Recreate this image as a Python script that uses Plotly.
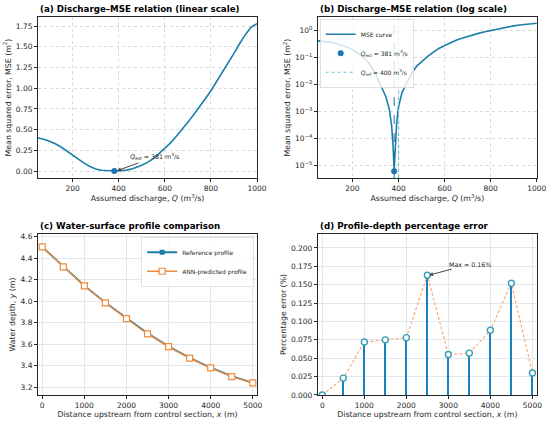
import plotly.graph_objects as go

# Discharge - MSE curve
q_vals = [50, 75, 100, 125, 150, 175, 200, 225, 250, 275, 300, 325, 345, 360, 370, 376, 379,
          381, 383, 386, 392, 400, 415, 435, 460, 480, 500, 525, 550, 575, 600, 625, 650,
          675, 700, 725, 750, 775, 800, 825, 850, 875, 900, 925, 950, 975, 1000]
mse_vals = [0.40, 0.385, 0.36, 0.33, 0.29, 0.24, 0.19, 0.14, 0.095, 0.055, 0.025, 0.009,
            0.0035, 0.0012, 3e-4, 6e-5, 1.5e-5, 6.3e-6, 1.5e-5, 6e-5, 4e-4, 1.5e-3, 5e-3,
            0.011, 0.028, 0.048, 0.07, 0.105, 0.15, 0.21, 0.27, 0.34, 0.42, 0.50, 0.59,
            0.68, 0.77, 0.87, 0.97, 1.08, 1.19, 1.30, 1.42, 1.54, 1.65, 1.74, 1.78]
q_est = 381
mse_est = 6.3e-6
q_ref = 400

# Water-surface profile
x_dist = [0, 500, 1000, 1500, 2000, 2500, 3000, 3500, 4000, 4500, 5000]
y_ref = [4.505, 4.321, 4.145, 3.987, 3.842, 3.702, 3.580, 3.473, 3.383, 3.303, 3.241]
y_ann = [4.505, 4.320, 4.142, 3.984, 3.839, 3.696, 3.578, 3.471, 3.380, 3.298, 3.240]

# Percentage error
pct_err = [0.000, 0.023, 0.072, 0.075, 0.078, 0.163, 0.055, 0.057, 0.088, 0.152, 0.030]

log_tickvals = [1e-5, 1e-4, 1e-3, 1e-2, 1e-1, 1]
log_ticktext = ['10<sup>−5</sup>', '10<sup>−4</sup>', '10<sup>−3</sup>',
                '10<sup>−2</sup>', '10<sup>−1</sup>', '10<sup>0</sup>']

FONT = 'DejaVu Sans'
BLUE = '#1b7fa8'
ORANGE = '#f28a3a'
INK = '#262626'

fig = go.Figure()

# (a) linear
fig.add_trace(go.Scatter(x=q_vals, y=mse_vals, mode='lines', line=dict(color=BLUE, width=1.6),
                         xaxis='x', yaxis='y', showlegend=False))
fig.add_trace(go.Scatter(x=[q_est], y=[mse_est], mode='markers', marker=dict(color='#1a78b0', size=6),
                         xaxis='x', yaxis='y', showlegend=False))

# (b) log
fig.add_trace(go.Scatter(x=q_vals, y=mse_vals, mode='lines', name='MSE curve',
                         line=dict(color=BLUE, width=1.6),
                         xaxis='x2', yaxis='y2', legend='legend'))
fig.add_trace(go.Scatter(x=[q_est], y=[mse_est], mode='markers',
                         name='<i>Q</i><sub>est</sub> = 381 m<sup>3</sup>/s',
                         marker=dict(color='#1a78b0', size=6), xaxis='x2', yaxis='y2', legend='legend'))
fig.add_shape(type='line', xref='x2', yref='y2 domain', x0=q_est, x1=q_est, y0=0, y1=1,
              line=dict(color='#1f6fa6', width=1, dash='dash'))
fig.add_shape(type='line', xref='x2', yref='y2 domain', x0=q_ref, x1=q_ref, y0=0, y1=1,
              line=dict(color='#6cc6dc', width=1.2, dash='dot'), showlegend=True,
              name='<i>Q</i><sub>ref</sub> = 400 m<sup>3</sup>/s', legend='legend')

# (c) profiles
fig.add_trace(go.Scatter(x=x_dist, y=y_ref, mode='lines+markers', name='Reference profile',
                         line=dict(color=BLUE, width=1.8), marker=dict(symbol='square', size=5, color=BLUE),
                         xaxis='x3', yaxis='y3', legend='legend2'))
fig.add_trace(go.Scatter(x=x_dist, y=y_ann, mode='lines+markers', name='ANN-predicted profile',
                         line=dict(color=ORANGE, width=1.3),
                         marker=dict(symbol='square', size=6, color='white', line=dict(color=ORANGE, width=1.2)),
                         xaxis='x3', yaxis='y3', legend='legend2'))

# (d) percentage error
fig.add_trace(go.Bar(x=x_dist, y=pct_err, width=34, marker=dict(color='#1a7fc0', line=dict(width=0)),
                     xaxis='x4', yaxis='y4', showlegend=False))
fig.add_trace(go.Scatter(x=x_dist, y=pct_err, mode='lines', line=dict(color='#f6a56c', width=1.1, dash='3px,2px'),
                         xaxis='x4', yaxis='y4', showlegend=False))
fig.add_trace(go.Scatter(x=x_dist, y=pct_err, mode='markers',
                         marker=dict(symbol='circle', size=6, color='white', line=dict(color='#3a9fb8', width=1.4)),
                         xaxis='x4', yaxis='y4', showlegend=False))

axis_common = dict(showline=True, linecolor=INK, linewidth=1, mirror=True, ticks='outside', ticklen=3,
                   tickcolor=INK, tickfont=dict(family=FONT, size=7.5, color=INK), zeroline=False,
                   automargin=False, title_font=dict(family=FONT, size=7.8, color=INK))
grid_dot = dict(showgrid=True, gridcolor='#d9d9d9', gridwidth=0.6, griddash='dot')
grid_solid = dict(showgrid=True, gridcolor='#e1e8ec', gridwidth=0.7)

xa = [0.0691, 0.4673]
xb = [0.578, 0.976]
ytop = [0.581, 0.96]
ybot = [0.0706, 0.4494]

fig.update_layout(
    width=550, height=425, margin=dict(l=0, r=0, t=0, b=0, autoexpand=False),
    paper_bgcolor='white', plot_bgcolor='white',
    font=dict(family=FONT, size=7.5, color=INK),
    bargap=0,
    xaxis=dict(domain=xa, anchor='y', range=[50, 1000], tickvals=[200, 400, 600, 800, 1000],
               title=dict(text='Assumed discharge, <i>Q</i> (m<sup>3</sup>/s)', standoff=2), **axis_common, **grid_dot),
    yaxis=dict(domain=ytop, anchor='x', range=[-0.085, 1.86], dtick=0.25, tickformat='.2f',
               title=dict(text='Mean squared error, MSE (m<sup>2</sup>)', standoff=3), **axis_common, **grid_dot),
    xaxis2=dict(domain=xb, anchor='y2', range=[50, 1000], tickvals=[200, 400, 600, 800, 1000],
                title=dict(text='Assumed discharge, <i>Q</i> (m<sup>3</sup>/s)', standoff=2), **axis_common, **grid_dot),
    yaxis2=dict(domain=ytop, anchor='x2', type='log', range=[-5.45, 0.48], tickvals=log_tickvals,
                ticktext=log_ticktext,
                title=dict(text='Mean squared error, MSE (m<sup>2</sup>)', standoff=3), **axis_common, **grid_dot),
    xaxis3=dict(domain=xa, anchor='y3', range=[-100, 5100], dtick=1000,
                title=dict(text='Distance upstream from control section, <i>x</i> (m)', standoff=2),
                **axis_common, **grid_solid),
    yaxis3=dict(domain=ybot, anchor='x3', range=[3.128, 4.625], dtick=0.2, tickformat='.1f',
                title=dict(text='Water depth, <i>y</i> (m)', standoff=3), **axis_common, **grid_solid),
    xaxis4=dict(domain=xb, anchor='y4', range=[-105, 5105], dtick=1000,
                title=dict(text='Distance upstream from control section, <i>x</i> (m)', standoff=2),
                **axis_common, **grid_solid),
    yaxis4=dict(domain=ybot, anchor='x4', range=[0, 0.219], dtick=0.025, tickformat='.3f',
                title=dict(text='Percentage error (%)', standoff=3), **axis_common, **grid_solid),
    legend=dict(x=0.582, y=0.955, xanchor='left', yanchor='top', bgcolor='rgba(255,255,255,0.8)',
                bordercolor='#cccccc', borderwidth=0.6, font=dict(family=FONT, size=6, color=INK),
                tracegroupgap=0, itemwidth=30),
    legend2=dict(x=0.461, y=0.442, xanchor='right', yanchor='top', bgcolor='rgba(255,255,255,0.8)',
                 bordercolor='#cccccc', borderwidth=0.6, font=dict(family=FONT, size=6, color=INK),
                 tracegroupgap=0, itemwidth=30),
)

# panel titles
titles = [
    ('(a) Discharge–MSE relation (linear scale)', xa[0], 1 - 9 / 425),
    ('(b) Discharge–MSE relation (log scale)', xb[0], 1 - 9 / 425),
    ('(c) Water-surface profile comparison', xa[0], 1 - 226 / 425),
    ('(d) Profile-depth percentage error', xb[0], 1 - 226 / 425),
]
for txt, xp, yp in titles:
    fig.add_annotation(text='<b>' + txt + '</b>', xref='paper', yref='paper', x=xp, y=yp,
                       xanchor='left', yanchor='middle', showarrow=False,
                       font=dict(family=FONT, size=8.7, color='black'))

fig.add_annotation(x=393, y=0.004, xref='x', yref='y', ax=557, ay=0.17, axref='x', ayref='y',
                   text='<i>Q</i><sub>est</sub> = 381 m<sup>3</sup>/s', showarrow=True,
                   arrowhead=2, arrowsize=0.8, arrowwidth=1, arrowcolor='#444444',
                   font=dict(family=FONT, size=6.3, color=INK))
fig.add_annotation(x=2540, y=0.163, xref='x4', yref='y4', ax=3520, ay=0.178, axref='x4', ayref='y4',
                   text='Max = 0.16%', showarrow=True, arrowhead=2, arrowsize=0.8, arrowwidth=1,
                   arrowcolor='#444444', font=dict(family=FONT, size=6.3, color=INK))

fig.write_html('out.html', config={'displayModeBar': False},
               post_script="document.body.style.margin='0';document.body.style.overflow='hidden';")
